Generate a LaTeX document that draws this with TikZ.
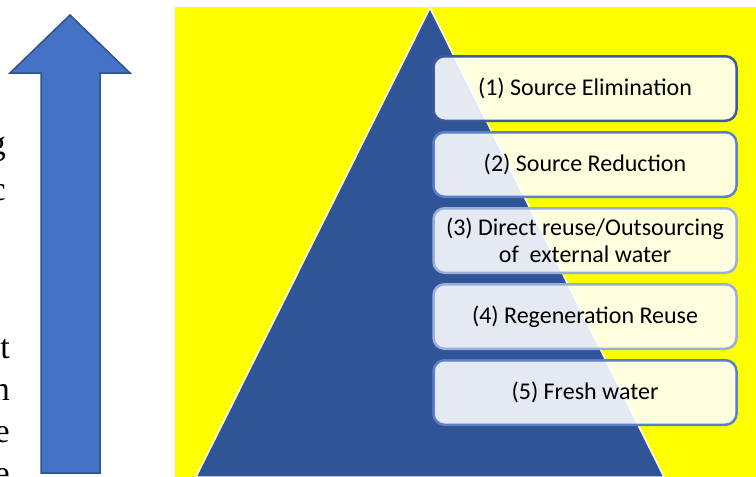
\documentclass[tikz,border=0pt]{standalone}
\usepackage{fontspec}
\setmainfont{Liberation Serif}
\newfontfamily\boxfont{Carlito}
\usetikzlibrary{positioning}
\definecolor{pyryellow}{HTML}{FFFF00}
\definecolor{pyrblue}{HTML}{2F5597}
\definecolor{arrfill}{HTML}{4472C4}
\definecolor{arrline}{HTML}{2F528F}
\definecolor{lineA}{HTML}{3B5B9C}
\definecolor{lineB}{HTML}{5B7FC8}
\definecolor{lineC}{HTML}{9AAEDC}
\begin{document}
\begin{tikzpicture}[
        x=1pt, y=-1pt,
        every node/.style={inner sep=0pt},
        level_box/.style={draw, line width=2.5pt, rounded corners=11pt, fill=white, fill opacity=0.88, text opacity=1,
            minimum width=303pt, minimum height=64.5pt, align=center,
            font=\boxfont\fontsize{24}{26.5}\selectfont},
        cut_text/.style={anchor=base east, font=\fontsize{34}{40}\selectfont}
        ]
    \useasboundingbox (0,0) rectangle (756,477);
    \clip (0,0) rectangle (756,477);
    % background and pyramid
    \fill[pyryellow] (175,7) rectangle (760,480);
    \draw[fill=pyrblue, draw=white, line width=1.5pt] (430,8) -- (664,477) -- (196,477) -- cycle;
    % levels
    \node[level_box, draw=lineA] (lev1) at (585,88.5) {(1) Source Elimination};
    \node[level_box, draw=lineB, below=9pt of lev1] (lev2) {(2) Source Reduction};
    \node[level_box, draw=lineC, below=9pt of lev2] (lev3) {(3) Direct reuse/Outsourcing\\of~~external water};
    \node[level_box, draw=lineC, below=9pt of lev3] (lev4) {(4) Regeneration Reuse};
    \node[level_box, draw=lineB, below=9pt of lev4] (lev5) {(5) Fresh water};
    % up arrow
    \draw[fill=arrfill, draw=arrline, line width=1.5pt, line join=miter]
        (70,15) -- (130,73) -- (100,73) -- (100,473) -- (41,473) -- (41,73) -- (10,73) -- cycle;
    % cut off text at the left edge
    \node[cut_text] (lt1) at (6,154) {g};
    \node[cut_text] (lt2) at (6,200) {c};
    \node[cut_text] (lt3) at (10,358) {t};
    \node[cut_text] (lt4) at (10,400) {n};
    \node[cut_text] (lt5) at (10,442) {e};
    \node[cut_text] (lt6) at (10,484) {e};
\end{tikzpicture}
\end{document}
